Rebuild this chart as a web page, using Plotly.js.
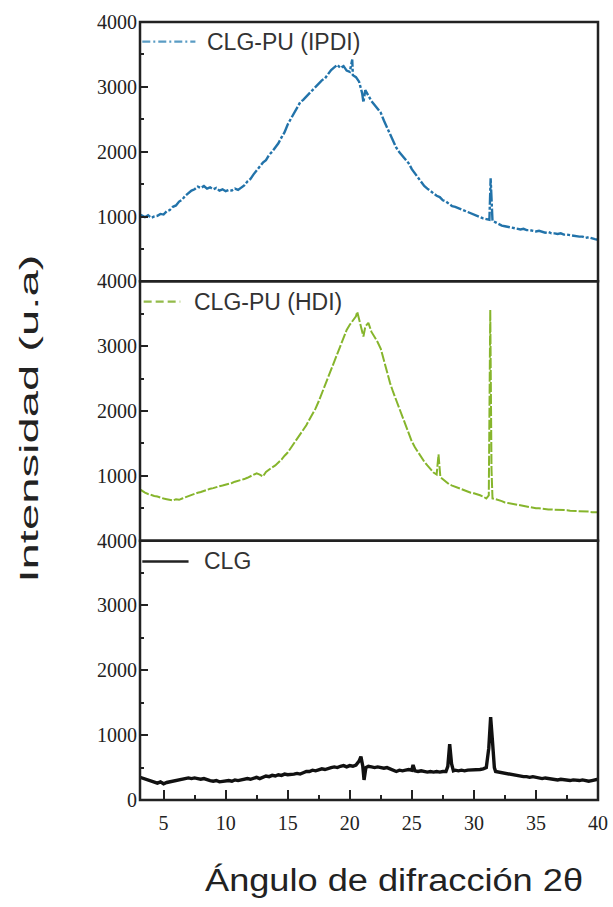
<!DOCTYPE html>
<html><head><meta charset="utf-8">
<script src="https://cdn.plot.ly/plotly-3.0.1.min.js"></script>
<style>html,body{margin:0;padding:0;background:#fff}</style>
</head><body><div id="chart" style="width:613px;height:907px"></div>
<script>
// ---- CLG-PU (IPDI) ----
const xIPDI = [3.1,3.25,3.5,3.75,4,4.25,4.5,4.75,5,5.25,5.5,5.75,6,6.25,6.5,6.75,7,7.25,7.5,7.75,8,8.25,8.5,8.75,9,9.25,9.5,9.75,10,10.25,10.5,10.75,11,11.25,11.5,11.75,12,12.25,12.5,12.75,13,13.25,13.5,13.75,14,14.25,14.5,14.75,15,15.25,15.5,15.75,16,16.25,16.5,16.75,17,17.25,17.5,17.75,18,18.25,18.5,18.75,19,19.25,19.5,19.75,20,20.2,20.25,20.5,20.75,21,21.1,21.25,21.5,21.75,22,22.25,22.5,22.75,23,23.25,23.5,23.75,24,24.25,24.5,24.75,25,25.25,25.5,25.75,26,26.25,26.5,26.75,27,27.25,27.5,27.75,28,28.25,28.5,28.75,29,29.25,29.5,29.75,30,30.25,30.5,30.75,31,31.25,31.35,31.45,31.5,31.75,32,32.25,32.5,32.75,33,33.25,33.5,33.75,34,34.25,34.5,34.75,35,35.25,35.5,35.75,36,36.25,36.5,36.75,37,37.25,37.5,37.75,38,38.25,38.5,38.75,39,39.25,39.5,39.75,40];
const yIPDI = [1030,1010,990,1020,980,1000,1010,1040,1030,1080,1100,1150,1170,1230,1260,1320,1360,1400,1420,1460,1440,1470,1430,1450,1420,1440,1400,1420,1390,1410,1400,1430,1410,1450,1480,1540,1580,1650,1710,1760,1830,1870,1950,2000,2060,2130,2220,2300,2420,2500,2600,2680,2760,2800,2850,2900,2950,3000,3040,3100,3130,3200,3260,3300,3340,3290,3320,3250,3230,3420,3180,3150,3080,2900,2760,2950,2860,2780,2720,2660,2600,2480,2380,2280,2160,2060,1990,1930,1870,1820,1730,1660,1590,1530,1470,1430,1390,1360,1320,1300,1250,1230,1190,1160,1150,1130,1100,1090,1060,1040,1020,1000,990,970,960,950,1590,940,930,910,880,860,850,840,830,820,810,800,810,790,790,780,770,780,760,750,760,740,740,730,740,720,720,710,700,700,690,690,670,680,660,650,640];

// ---- CLG-PU (HDI) ----
const xHDI = [3.1,3.25,3.5,3.75,4,4.25,4.5,4.75,5,5.25,5.5,5.75,6,6.25,6.5,6.75,7,7.25,7.5,7.75,8,8.25,8.5,8.75,9,9.25,9.5,9.75,10,10.25,10.5,10.75,11,11.25,11.5,11.75,12,12.25,12.5,12.75,13,13.25,13.5,13.75,14,14.25,14.5,14.75,15,15.25,15.5,15.75,16,16.25,16.5,16.75,17,17.25,17.5,17.75,18,18.25,18.5,18.75,19,19.25,19.5,19.75,20,20.25,20.5,20.6,20.75,21,21.1,21.25,21.5,21.75,22,22.25,22.5,22.75,23,23.25,23.5,23.75,24,24.25,24.5,24.75,25,25.25,25.5,25.75,26,26.25,26.5,26.75,27,27.15,27.3,27.5,27.75,28,28.25,28.5,28.75,29,29.25,29.5,29.75,30,30.25,30.5,30.75,31,31.2,31.32,31.42,31.5,31.75,32,32.25,32.5,32.75,33,33.25,33.5,33.75,34,34.25,34.5,34.75,35,35.25,35.5,35.75,36,36.25,36.5,36.75,37,37.25,37.5,37.75,38,38.25,38.5,38.75,39,39.25,39.5,39.75,40];
const yHDI = [790,770,740,720,700,690,680,660,650,640,630,620,640,630,650,670,690,700,720,740,750,770,780,800,810,830,840,850,860,880,890,910,920,940,950,970,990,1010,1040,1020,990,1060,1100,1130,1160,1200,1250,1310,1360,1430,1500,1560,1630,1700,1780,1870,1950,2040,2150,2270,2380,2500,2620,2740,2880,3000,3120,3250,3330,3400,3460,3530,3420,3260,3150,3300,3360,3220,3150,3060,2960,2780,2580,2430,2290,2160,2030,1900,1760,1640,1530,1440,1360,1280,1220,1160,1100,1050,1020,1330,980,950,900,870,850,830,810,790,770,760,740,730,720,700,680,650,700,3560,1100,650,640,630,610,590,580,570,560,550,540,530,520,510,510,500,500,490,490,480,480,480,470,470,470,470,460,460,460,450,450,450,450,440,440,440];

// ---- CLG ----
const xCLG = [3.1,3.25,3.5,3.75,4,4.25,4.5,4.75,5,5.25,5.5,5.75,6,6.25,6.5,6.75,7,7.25,7.5,7.75,8,8.25,8.5,8.75,9,9.25,9.5,9.75,10,10.25,10.5,10.75,11,11.25,11.5,11.75,12,12.25,12.5,12.75,13,13.25,13.5,13.75,14,14.25,14.5,14.75,15,15.25,15.5,15.75,16,16.25,16.5,16.75,17,17.25,17.5,17.75,18,18.25,18.5,18.75,19,19.25,19.5,19.75,20,20.25,20.5,20.75,20.9,21.05,21.15,21.3,21.5,21.75,22,22.25,22.5,22.75,23,23.25,23.5,23.75,24,24.25,24.5,24.75,25,25.1,25.25,25.5,25.75,26,26.25,26.5,26.75,27,27.25,27.5,27.75,27.9,28.05,28.2,28.35,28.5,28.75,29,29.25,29.5,29.75,30,30.25,30.5,30.75,31,31.2,31.35,31.5,31.65,31.75,32,32.25,32.5,32.75,33,33.25,33.5,33.75,34,34.25,34.5,34.75,35,35.25,35.5,35.75,36,36.25,36.5,36.75,37,37.25,37.5,37.75,38,38.25,38.5,38.75,39,39.25,39.5,39.75,40];
const yCLG = [350,340,320,300,280,270,260,280,250,270,280,290,300,310,320,330,340,330,340,330,320,330,310,300,290,300,280,290,290,300,290,310,300,310,320,330,320,340,350,330,350,370,360,380,370,390,380,400,390,390,400,410,400,420,440,440,460,450,470,480,470,490,500,510,500,520,530,510,530,520,540,600,670,520,310,500,520,510,500,510,500,490,500,480,460,440,460,450,460,470,460,540,450,440,450,440,430,440,430,440,430,440,440,520,860,560,450,460,450,460,450,460,460,470,460,470,480,500,800,1280,900,500,440,430,420,410,400,390,380,370,370,360,360,350,360,350,340,330,340,330,320,320,310,320,310,310,300,310,300,300,310,300,290,300,310,320];

const xTickVals = [5,10,15,20,25,30,35,40];
const yTickValsBottom = [0,1000,2000,3000,4000];
const yTickValsUpper = [1000,2000,3000,4000];
const seriesNames = ['CLG-PU (IPDI)','CLG-PU (HDI)','CLG'];
const xTitle = 'Ángulo de difracción 2θ';
const yTitle = 'Intensidad (u.a)';

const colIPDI = '#2273aa', colHDI = '#86b52c', colCLG = '#111111';
const axisCol = '#222';

const traces = [
  {x:xIPDI, y:yIPDI, xaxis:'x', yaxis:'y3', mode:'lines', name:seriesNames[0],
   line:{color:colIPDI, width:2.4, dash:'12px,2px,3px,2px'}},
  {x:xHDI, y:yHDI, xaxis:'x', yaxis:'y2', mode:'lines', name:seriesNames[1],
   line:{color:colHDI, width:2, dash:'10px,2px'}},
  {x:xCLG, y:yCLG, xaxis:'x', yaxis:'y', mode:'lines', name:seriesNames[2],
   line:{color:colCLG, width:3.4}}
];

const tickFont = {family:'Liberation Serif', size:20, color:'#222'};
function yAx(dom, vals){
  return {domain:dom, range:[0,4000], tickvals:vals, ticktext:vals.map(String),
    ticks:'inside', ticklen:8, tickwidth:2, tickcolor:axisCol,
    minor:{tick0:0, dtick:500, ticks:'inside', ticklen:4, tickwidth:2, tickcolor:axisCol},
    showgrid:false, zeroline:false, showline:false, tickfont:tickFont,
    anchor:'x', fixedrange:true, ticklabelstandoff:2};
}

const layout = {
  width:613, height:907,
  margin:{l:139.5, r:14.7, t:22, b:106.5, pad:0},
  paper_bgcolor:'#ffffff', plot_bgcolor:'#ffffff',
  showlegend:false,
  font:{family:'Liberation Sans', size:20, color:'#222'},
  xaxis:{range:[3.1,40], tickvals:xTickVals, ticktext:xTickVals.map(String),
    ticks:'inside', ticklen:10, tickwidth:2, tickcolor:axisCol,
    minor:{tick0:0, dtick:2.5, ticks:'inside', ticklen:5, tickwidth:2, tickcolor:axisCol},
    showgrid:false, zeroline:false, showline:false, tickfont:tickFont, anchor:'y', ticklabelstandoff:9},
  yaxis:yAx([0,1/3], yTickValsBottom),
  yaxis2:yAx([1/3,2/3], yTickValsUpper),
  yaxis3:yAx([2/3,1], yTickValsUpper),
  shapes:[
    {type:'rect', xref:'paper', yref:'paper', x0:0, x1:1, y0:0, y1:1/3, line:{color:axisCol, width:2.5}},
    {type:'rect', xref:'paper', yref:'paper', x0:0, x1:1, y0:1/3, y1:2/3, line:{color:axisCol, width:2.5}},
    {type:'rect', xref:'paper', yref:'paper', x0:0, x1:1, y0:2/3, y1:1, line:{color:axisCol, width:2.5}},
    // legend samples
    {type:'line', xref:'paper', yref:'paper', x0:0.005, x1:0.121, y0:0.9747, y1:0.9747, line:{color:'#5a9cc4', width:2.2, dash:'8px,3px,2px,3px'}},
    {type:'line', xref:'paper', yref:'paper', x0:0.008, x1:0.088, y0:0.6407, y1:0.6407, line:{color:'#93bb4a', width:2.2, dash:'8px,4px'}},
    {type:'line', xref:'paper', yref:'paper', x0:0.005, x1:0.106, y0:0.3067, y1:0.3067, line:{color:'#222', width:2.5}}
  ],
  annotations:[
    {text:seriesNames[0], xref:'paper', yref:'paper', x:0.1428, y:0.9747, xanchor:'left', yanchor:'middle', showarrow:false, font:{family:'Liberation Sans', size:23, color:'#333'}},
    {text:seriesNames[1], xref:'paper', yref:'paper', x:0.1138, y:0.6407, xanchor:'left', yanchor:'middle', showarrow:false, font:{family:'Liberation Sans', size:23, color:'#333'}},
    {text:seriesNames[2], xref:'paper', yref:'paper', x:0.1356, y:0.3067, xanchor:'left', yanchor:'middle', showarrow:false, font:{family:'Liberation Sans', size:23, color:'#333'}},
    {text:xTitle, xref:'paper', yref:'paper', x:0.5536, y:-0.104, xanchor:'center', yanchor:'middle', showarrow:false, font:{family:'Liberation Sans', size:31, color:'#222'}},
    {text:yTitle, xref:'paper', yref:'paper', x:-0.242, y:0.49, xanchor:'center', yanchor:'middle', textangle:-90, showarrow:false, font:{family:'Liberation Sans', size:26, color:'#222'}}
  ]
};

Plotly.newPlot('chart', traces, layout, {displayModeBar:false, staticPlot:true}).then(function(gd){
  const texts = gd.querySelectorAll('.annotation-text');
  texts.forEach(function(t){
    const s = t.textContent;
    if (s === xTitle) { t.setAttribute('textLength','378'); t.setAttribute('lengthAdjust','spacingAndGlyphs'); }
    if (s === yTitle) { t.setAttribute('textLength','328'); t.setAttribute('lengthAdjust','spacingAndGlyphs'); }
  });
});
</script>
</body></html>
